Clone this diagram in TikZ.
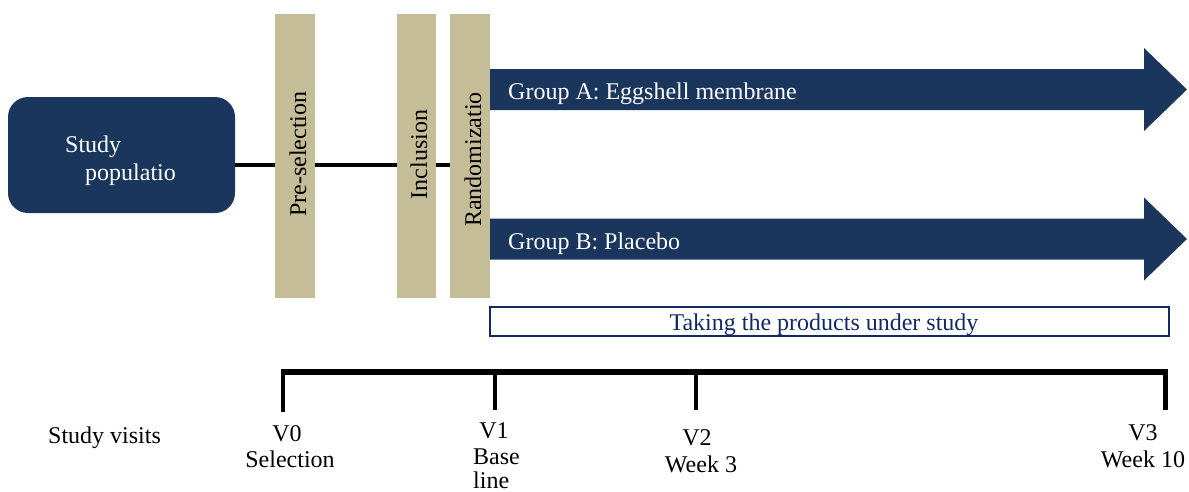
\documentclass[tikz,border=0pt]{standalone}
\usepackage{fontspec}
\setmainfont{Liberation Serif}
\definecolor{navy}{RGB}{27,54,93}
\definecolor{tanbar}{RGB}{196,189,151}
\definecolor{boxblue}{RGB}{20,40,100}
\begin{document}
\begin{tikzpicture}[x=1pt,y=-1pt,
  lbl/.style={font=\fontsize{24}{27}\selectfont, inner sep=0pt},
  barbox/.style={fill=tanbar, draw=none, minimum width=40pt, minimum height=284pt, inner sep=0pt},
  conn/.style={line width=4pt},
  arrowfill/.style={fill=navy},
  tick/.style={line width=4.5pt}]
\useasboundingbox (0,0) rectangle (1189,491);

% study population
\node[fill=navy, rounded corners=20pt, minimum width=227pt, minimum height=116pt, inner sep=0pt] (pop) at (121.5,155) {};
\node[lbl, text=white, anchor=base west] (popa) at (65,152) {Study};
\node[lbl, text=white, anchor=base west] (popb) at (85,180) {populatio};

% bars
\node[barbox] (pre) at (295,156) {};
\node[barbox, minimum width=39pt] (inc) at (416.5,156) {};
\node[barbox] (rnd) at (470,156) {};
\node[lbl, rotate=90, anchor=base] (pretxt) at (306,154) {Pre-selection};
\node[lbl, rotate=90, anchor=base] (inctxt) at (427,154.5) {Inclusion};
\node[lbl, rotate=90, anchor=base] (rndtxt) at (481,159.5) {Randomizatio};

% connectors
\coordinate (ly) at (0,164.5);
\draw[conn] (pop.east |- ly) -- (pre.west |- ly);
\draw[conn] (pre.east |- ly) -- (inc.west |- ly);
\draw[conn] (inc.east |- ly) -- (rnd.west |- ly);

% group arrows
\fill[arrowfill] (490,69) -- (1144,69) -- (1144,48) -- (1187,89.5) -- (1144,131) -- (1144,110) -- (490,110) -- cycle;
\fill[arrowfill] (490,218.5) -- (1144,218.5) -- (1144,197.5) -- (1187,239) -- (1144,280.5) -- (1144,259.5) -- (490,259.5) -- cycle;
\node[lbl, text=white, anchor=base west] (ga) at (508,99) {Group A: Eggshell membrane};
\node[lbl, text=white, anchor=base west] (gb) at (508,249) {Group B: Placebo};

% taking products
\node[draw=boxblue, line width=2pt, minimum width=679pt, minimum height=29pt, inner sep=0pt] (take) at (829.5,321.5) {};
\node[lbl, text=boxblue, anchor=base] (taketxt) at (824,330) {Taking the products under study};

% timeline
\coordinate (t0) at (283,372);
\coordinate (t1) at (495,372);
\coordinate (t2) at (696,372);
\coordinate (t3) at (1165.5,372);
\draw[line width=6pt] ([xshift=-2.25pt]t0) -- ([xshift=2.25pt]t3);
\draw[tick] (t0) -- ++(0,40);
\draw[tick] (t1) -- ++(0,38);
\draw[tick] (t2) -- ++(0,38);
\draw[tick] (t3) -- ++(0,38);

% labels
\node[lbl, anchor=base west] (sv) at (48,443) {Study visits};
\node[lbl, anchor=base] (v0) at (287,441) {V0};
\node[lbl, anchor=base] (v0b) at (290,467) {Selection};
\node[lbl, anchor=base] (v1) at (494,438) {V1};
\node[lbl, anchor=base west] (v1b) at (473,464) {Base};
\node[lbl, anchor=base west] (v1c) at (473,488) {line};
\node[lbl, anchor=base] (v2) at (697,445) {V2};
\node[lbl, anchor=base] (v2b) at (701,472) {Week 3};
\node[lbl, anchor=base] (v3) at (1143,440) {V3};
\node[lbl, anchor=base] (v3b) at (1143,467) {Week 10};
\end{tikzpicture}
\end{document}
